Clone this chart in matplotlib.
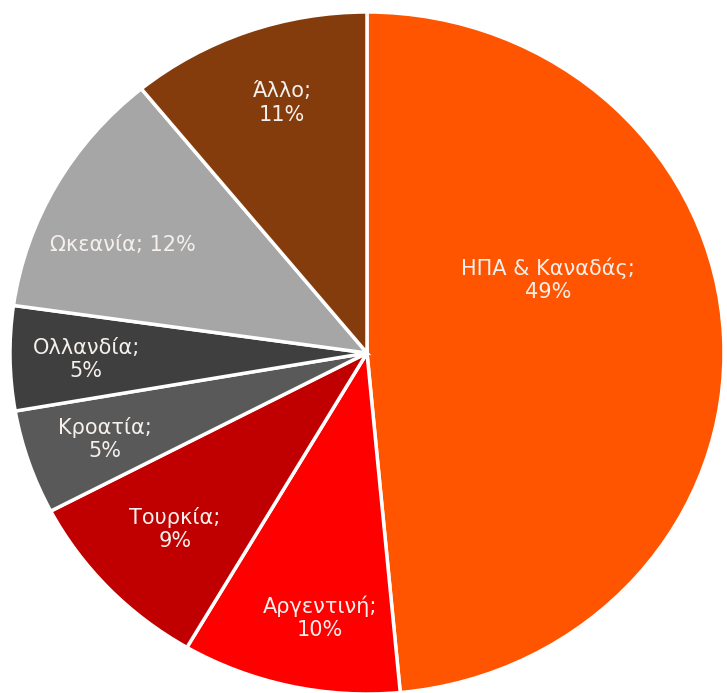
import matplotlib
matplotlib.use('Agg')
import matplotlib.pyplot as plt

# data (percent shares, clockwise from 12 o'clock)
regions = ['ΗΠΑ & Καναδάς', 'Αργεντινή', 'Τουρκία', 'Κροατία', 'Ολλανδία', 'Ωκεανία', 'Άλλο']
shares = [49, 10, 9, 5, 5, 12, 11]
colors = ['#FF5500', '#FF0000', '#C00000', '#595959', '#3F3F3F', '#A6A6A6', '#843C0C']

# label text layout: line break or not, and centre in pie-radius units
label_breaks = ['\n', '\n', '\n', '\n', '\n', ' ', '\n']
label_pos = [(0.507, 0.214), (-0.132, -0.777), (-0.538, -0.516), (-0.734, -0.252),
             (-0.787, -0.018), (-0.685, 0.317), (-0.238, 0.733)]

W, H = 727, 693
fig = plt.figure(figsize=(W / 100, H / 100), dpi=100)
# pie is slightly wider than tall in the reference
cx, cy, rx, ry = 367, 353, 357, 341
ax = fig.add_axes([(cx - rx) / W, (H - cy - ry) / H, 2 * rx / W, 2 * ry / H])

wedges, _ = ax.pie(shares, colors=colors, startangle=90, counterclock=False,
                   wedgeprops=dict(edgecolor='white', linewidth=2.5))
ax.set_aspect('auto')
ax.set_xlim(-1, 1)
ax.set_ylim(-1, 1)

for name, val, brk, (x, y) in zip(regions, shares, label_breaks, label_pos):
    ax.text(x, y, name + ';' + brk + str(val) + '%', ha='center', va='center',
            color='#F5F0EC', fontsize=15, linespacing=1.2, family='DejaVu Sans')

fig.savefig('out.png', dpi=100)
